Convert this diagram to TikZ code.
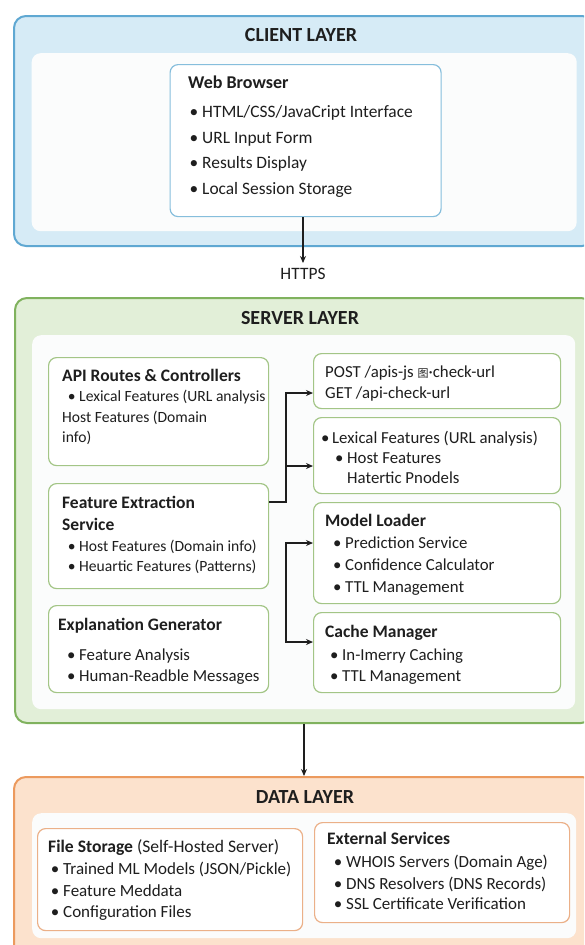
\documentclass[tikz,border=0pt]{standalone}
\usepackage{fontspec}
\setmainfont{Carlito}
\newfontfamily\cjk{Noto Sans CJK SC}
\usetikzlibrary{arrows.meta}

\definecolor{clientfill}{HTML}{D6EBF6}
\definecolor{clientline}{HTML}{5FA8D2}
\definecolor{clientbox}{HTML}{86BEDC}
\definecolor{serverfill}{HTML}{E2EFD8}
\definecolor{serverline}{HTML}{80B25E}
\definecolor{serverbox}{HTML}{A3C586}
\definecolor{datafill}{HTML}{FCE2CD}
\definecolor{dataline}{HTML}{EC9A5E}
\definecolor{databox}{HTML}{EBB088}
\definecolor{panel}{HTML}{FBFCFC}
\definecolor{ink}{HTML}{1E1E1E}

\tikzset{
  layer/.style={draw, line width=2pt, rounded corners=12pt, inner sep=0pt, anchor=north west},
  panelbox/.style={fill=panel, rounded corners=9pt, inner sep=0pt, anchor=north west},
  card/.style={draw, fill=white, line width=1.2pt, rounded corners=8pt, inner sep=0pt, anchor=north west},
  title/.style={font=\bfseries\fontsize{20}{24}\selectfont, text=ink, inner sep=0pt, yshift=-1pt},
  % text lines: the given point is the visual middle of the line
  head/.style={font=\bfseries\fontsize{17.5}{20}\selectfont, anchor=west, inner sep=0pt,
    text height=0.5em, text depth=0.5em, text=ink, yshift=-5pt},
  txt/.style={font=\fontsize{16.8}{20}\selectfont, anchor=west, inner sep=0pt,
    text height=0.5em, text depth=0.5em, text=ink, yshift=-5pt},
  smalltxt/.style={txt, font=\fontsize{15.6}{20}\selectfont},
  bigtxt/.style={txt, font=\fontsize{17.4}{20}\selectfont},
  datatxt/.style={txt, font=\fontsize{17}{20}\selectfont},
  arrow/.style={draw=ink, line width=1.4pt, -{Stealth[length=7pt,width=6pt]}},
}

% rectangle node given by its top-left and bottom-right corners
\newcommand\boxat[7]{%
  \node[#2, minimum width={(#5-#3)*1pt}, minimum height={(#6-#4)*1pt}, #7] (#1) at (#3,#4) {};}
\newcommand\bul{\llap{\textbullet\ }}

\begin{document}
\begin{tikzpicture}[x=1pt,y=-1pt]
\useasboundingbox (0,0) rectangle (584,945);
\clip (0,0) rectangle (584,945);
\fill[white] (0,0) rectangle (584,945);

% ---------------- client layer ----------------
\boxat{clientlayer}{layer}{13}{15}{593}{245}{draw=clientline, fill=clientfill}
\boxat{clientpanel}{panelbox}{31.5}{53}{576.5}{231}{}
\node[title] (clienttitle) at (301,34) {CLIENT LAYER};
\boxat{web}{card}{169.5}{64}{440.5}{216}{draw=clientbox}
\node[head, font=\bfseries\fontsize{18}{20}\selectfont] (webh) at (188,83) {Web Browser};
\node[bigtxt] (web1) at (202,112) {\bul HTML/CSS/JavaCript Interface};
\node[bigtxt] (web2) at (202,138) {\bul URL Input Form};
\node[bigtxt] (web3) at (202,163) {\bul Results Display};
\node[bigtxt] (web4) at (202,189) {\bul Local Session Storage};

\node[bigtxt, anchor=center, yshift=4pt] (https) at (303,278) {HTTPS};
\draw[arrow] (https.north |- web.south) -- (303,263);

% ---------------- server layer ----------------
\boxat{serverlayer}{layer}{14}{297}{592}{722}{draw=serverline, fill=serverfill}
\boxat{serverpanel}{panelbox}{32}{335}{575}{709}{}
\node[title] (servertitle) at (300,317) {SERVER LAYER};

\boxat{api}{card}{48}{357}{268}{465}{draw=serverbox}
\node[head] (apih) at (62,376) {API Routes \& Controllers};
\node[smalltxt] (api1) at (79,396) {\bul Lexical Features (URL analysis};
\node[smalltxt] (api2) at (62,417) {Host Features (Domain};
\node[smalltxt] (api3) at (62,437) {info)};

\boxat{fe}{card}{48}{483}{268}{588}{draw=serverbox}
\node[head] (feh1) at (62,503) {Feature Extraction};
\node[head] (feh2) at (62,525) {Service};
\node[smalltxt] (fe1) at (79,546) {\bul Host Features (Domain info)};
\node[smalltxt] (fe2) at (79,566) {\bul Heuartic Features (Patterns)};

\boxat{ex}{card}{48}{605}{268}{692}{draw=serverbox}
\node[head] (exh) at (58,625) {Explanation Generator};
\node[txt] (ex1) at (79,655) {\bul Feature Analysis};
\node[txt] (ex2) at (79,676) {\bul Human-Readble Messages};

\boxat{post}{card}{313}{353}{560}{408}{draw=serverbox}
\node[txt] (post1) at (325,372) {POST /apis-js {\cjk\fontsize{11}{11}\selectfont 图}·check-url};
\node[txt] (post2) at (325,393) {GET /api-check-url};

\boxat{lex}{card}{313}{417}{560}{493}{draw=serverbox}
\node[txt] (lex1) at (332,438) {\llap{\textbullet\,}Lexical Features (URL analysis)};
\node[txt] (lex2) at (347,458) {\bul Host Features};
\node[txt] (lex3) at (347,478) {Hatertic Pnodels};

\boxat{model}{card}{313}{502}{560}{603}{draw=serverbox}
\node[head] (modelh) at (325,521) {Model Loader};
\node[txt] (model1) at (345,543) {\bul Prediction Service};
\node[txt] (model2) at (345,565) {\bul Confidence Calculator};
\node[txt] (model3) at (345,587) {\bul TTL Management};

\boxat{cache}{card}{313}{612}{560}{692}{draw=serverbox}
\node[head] (cacheh) at (325,632) {Cache Manager};
\node[txt] (cache1) at (342,655) {\bul In-Imerry Caching};
\node[txt] (cache2) at (342,676) {\bul TTL Management};

% connectors inside the server layer
\coordinate (fork) at (286,502);
\draw[arrow] (fe.east |- 0,502) -- (fork) |- (post.west |- 0,393);
\draw[arrow] (fork) |- (lex.west |- 0,466);
\coordinate (split) at (286,592);
\draw[arrow] (split) |- (model.west |- 0,543);
\draw[arrow] (split) |- (cache.west |- 0,642);

% ---------------- data layer ----------------
\boxat{datalayer}{layer}{13}{776}{593}{965}{draw=dataline, fill=datafill}
\boxat{datapanel}{panelbox}{32}{813}{576}{938}{}
\node[title] (datatitle) at (305,796) {DATA LAYER};

\boxat{fs}{card}{37}{828}{302}{930}{draw=databox}
\node[datatxt, font=\fontsize{17.6}{20}\selectfont] (fsh) at (48,847) {\textbf{File Storage} (Self-Hosted Server)};
\node[datatxt] (fs1) at (63,869) {\bul Trained ML Models (JSON/Pickle)};
\node[datatxt] (fs2) at (63,891) {\bul Feature Meddata};
\node[datatxt] (fs3) at (63,912) {\bul Configuration Files};

\boxat{ext}{card}{314}{822}{569}{922}{draw=databox}
\node[head] (exth) at (327,839) {External Services};
\node[datatxt] (ext1) at (346,862) {\bul WHOIS Servers (Domain Age)};
\node[datatxt] (ext2) at (346,884) {\bul DNS Resolvers (DNS Records)};
\node[datatxt] (ext3) at (346,904) {\bul SSL Certificate Verification};

\draw[arrow] (serverlayer.south) -- (datalayer.north);
\end{tikzpicture}
\end{document}
